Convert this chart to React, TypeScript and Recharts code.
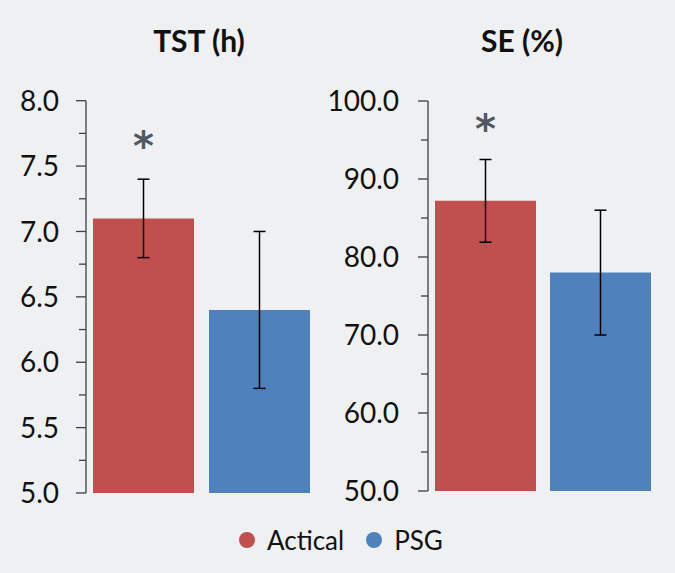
import React from "react";
import {
  BarChart,
  Bar,
  XAxis,
  YAxis,
  ErrorBar,
  LabelList,
} from "recharts";

// groups and values
const groups = ["Actical", "PSG"];
const groupColors = ["#c0504d", "#4f81bd"];

const tstMeans = [7.1, 6.4];
const tstErr = [0.3, 0.6];
const seMeans = [87.2, 78.0];
const seErr = [5.3, 8.0];
const sigMarks = ["*", ""];

const tstMajorTicks = [5.0, 5.5, 6.0, 6.5, 7.0, 7.5, 8.0];
const tstMinorTicks = [5.25, 5.75, 6.25, 6.75, 7.25, 7.75];
const seMajorTicks = [50, 60, 70, 80, 90, 100];
const seMinorTicks = [55, 65, 75, 85, 95];

const BG = "#eff0f2";
const AXIS = "#3f3f3f";
const FONT = "Lato, 'Open Sans', sans-serif";

function buildRow(name: string, means: number[], errs: number[]) {
  const row: Record<string, string | number> = { name };
  groups.forEach((g, i) => {
    row[g] = means[i];
    row[g + "_err"] = errs[i];
    row[g + "_sig"] = sigMarks[i];
  });
  return [row];
}

const tstData = buildRow("TST", tstMeans, tstErr);
const seData = buildRow("SE", seMeans, seErr);

function makeTick(majors: number[], labelGap: number) {
  return function AxisTick(props: any) {
    const { x, y, payload } = props;
    const major = majors.includes(payload.value);
    return (
      <g>
        <line
          x1={x - (major ? 10 : 7)}
          x2={x}
          y1={y}
          y2={y}
          stroke={AXIS}
          strokeWidth={1.3}
        />
        {major && (
          <text
            x={x - labelGap}
            y={y}
            dy="0.36em"
            textAnchor="end"
            fontSize={28}
            fontFamily={FONT}
            fill="#111"
          >
            {Number(payload.value).toFixed(1)}
          </text>
        )}
      </g>
    );
  };
}

function SigMark(props: any) {
  const { x, y, width, value } = props;
  if (!value) return null;
  return (
    <text
      x={x + width / 2}
      y={y - 80}
      dy={22}
      textAnchor="middle"
      fontSize={40}
      fontWeight={700}
      fontFamily="'DejaVu Sans', sans-serif"
      fill="#4f5963"
    >
      {value}
    </text>
  );
}

interface PanelProps {
  data: Record<string, string | number>[];
  domain: [number, number];
  majors: number[];
  minors: number[];
  left: number;
  width: number;
  axisWidth: number;
  margin: { top: number; right: number; bottom: number; left: number };
  labelGap: number;
  barGap: number;
}

function Panel({ data, domain, majors, minors, left, width, axisWidth, margin, labelGap, barGap }: PanelProps) {
  const ticks = [...majors, ...minors].sort((a, b) => a - b);
  return (
    <div style={{ position: "absolute", left, top: 0 }}>
      <BarChart
        width={width}
        height={520}
        data={data}
        margin={margin}
        barGap={barGap}
        barSize={101}
      >
        <XAxis
          dataKey="name"
          tick={false}
          tickLine={false}
          height={0}
          axisLine={{ stroke: AXIS, strokeWidth: 1.3 }}
        />
        <YAxis
          width={axisWidth}
          domain={domain}
          ticks={ticks}
          interval={0}
          allowDataOverflow
          tickSize={0}
          tickMargin={0}
          tickLine={false}
          axisLine={{ stroke: AXIS, strokeWidth: 1.3 }}
          tick={makeTick(majors, labelGap)}
        />
        {groups.map((g, i) => (
          <Bar key={g} dataKey={g} fill={groupColors[i]} isAnimationActive={false}>
            <ErrorBar dataKey={g + "_err"} width={6} strokeWidth={1.5} stroke="#000" direction="y" />
            <LabelList dataKey={g + "_sig"} content={SigMark} />
          </Bar>
        ))}
      </BarChart>
    </div>
  );
}

const titleStyle: React.CSSProperties = {
  position: "absolute",
  top: 22,
  fontFamily: FONT,
  fontWeight: 700,
  fontSize: 30,
  color: "#111",
  transform: "translateX(-50%)",
  whiteSpace: "nowrap",
  lineHeight: "36px",
};

export default function App() {
  return (
    <div
      style={{
        position: "absolute",
        left: 0,
        top: 0,
        width: 675,
        height: 573,
        background: BG,
        overflow: "hidden",
      }}
    >
      <div style={{ ...titleStyle, left: 199 }}>TST (h)</div>
      <div style={{ ...titleStyle, left: 522 }}>SE (%)</div>

      <Panel
        data={tstData}
        domain={[5, 8]}
        majors={tstMajorTicks}
        minors={tstMinorTicks}
        left={0}
        width={320}
        axisWidth={86}
        margin={{ top: 100.7, right: 4, bottom: 27, left: 0 }}
        labelGap={27}
        barGap={15}
      />
      <Panel
        data={seData}
        domain={[50, 100]}
        majors={seMajorTicks}
        minors={seMinorTicks}
        left={320}
        width={355}
        axisWidth={108}
        margin={{ top: 101, right: 18, bottom: 29, left: 0 }}
        labelGap={29}
        barGap={14}
      />

      <div
        style={{
          position: "absolute",
          left: 239,
          top: 524,
          height: 32,
          display: "flex",
          alignItems: "center",
          fontFamily: FONT,
          fontSize: 26,
          color: "#111",
        }}
      >
        {groups.map((g, i) => (
          <div key={g} style={{ display: "flex", alignItems: "center", marginRight: 22 }}>
            <span
              style={{
                width: 16,
                height: 16,
                borderRadius: "50%",
                background: groupColors[i],
                display: "inline-block",
                marginRight: 12,
              }}
            />
            <span>{g}</span>
          </div>
        ))}
      </div>
    </div>
  );
}
